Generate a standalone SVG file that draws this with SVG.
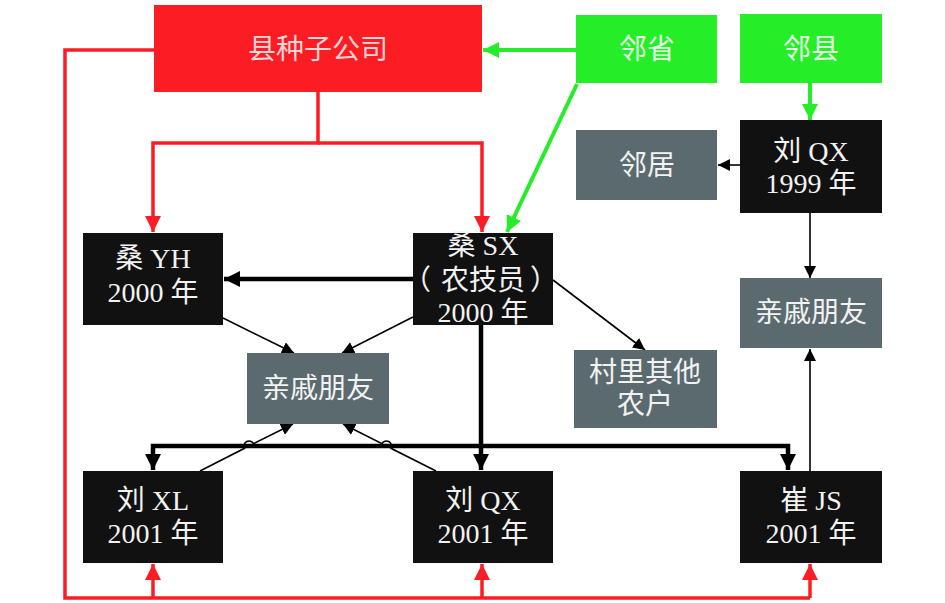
<svg xmlns="http://www.w3.org/2000/svg" width="945" height="603" viewBox="0 0 945 603">
<style>
.t{font-family:"Liberation Serif","Noto Sans CJK SC",serif;font-size:28px;text-anchor:middle;fill:#f2f2f2}
.s{text-anchor:start}
.red{fill:#fc1c23}.grn{fill:#25ee28}.blk{fill:#111111}.gry{fill:#5b6a6f}
.lr{fill:none;stroke:#fc1c23;stroke-width:3.5}
.lg{fill:none;stroke:#25ee28;stroke-width:4}
.lk{fill:none;stroke:#000;stroke-width:4.5}
.ln{fill:none;stroke:#000;stroke-width:1.6}
</style>
<defs>
<marker id="mr" markerUnits="userSpaceOnUse" markerWidth="18" markerHeight="18" refX="16" refY="8" orient="auto"><path d="M0,0 L16,8 L0,16 Z" fill="#fc1c23"/></marker>
<marker id="mg" markerUnits="userSpaceOnUse" markerWidth="18" markerHeight="18" refX="16" refY="8" orient="auto"><path d="M0,0 L16,8 L0,16 Z" fill="#25ee28"/></marker>
<marker id="mk" markerUnits="userSpaceOnUse" markerWidth="18" markerHeight="18" refX="16" refY="8" orient="auto"><path d="M0,0 L16,8 L0,16 Z" fill="#000"/></marker>
<marker id="mn" markerUnits="userSpaceOnUse" markerWidth="14" markerHeight="12" refX="12" refY="6" orient="auto"><path d="M0,0 L12,6 L0,12 Z" fill="#000"/></marker>
</defs>
<rect width="945" height="603" fill="#ffffff"/>
<g id="connectors">
<path class="lr" d="M154,50 H65 V598 H810"/>
<path class="lr" d="M153,598 V564" marker-end="url(#mr)"/>
<path class="lr" d="M482,598 V564" marker-end="url(#mr)"/>
<path class="lr" d="M810,598 V564" marker-end="url(#mr)"/>
<path class="lr" d="M318,92 V143 H153 V232" marker-end="url(#mr)"/>
<path class="lr" d="M318,143 H482 V232" marker-end="url(#mr)"/>
<path class="lg" d="M576,50 H483" marker-end="url(#mg)"/>
<path class="lg" d="M577,84 L507,232" marker-end="url(#mg)"/>
<path class="lg" d="M810,83 V120" marker-end="url(#mg)"/>
<path class="ln" d="M740,165 H718" marker-end="url(#mn)"/>
<path class="ln" d="M810,213 V278" marker-end="url(#mn)"/>
<path class="ln" d="M810,471 V349" marker-end="url(#mn)"/>
<path class="lk" d="M413,279 H224" marker-end="url(#mk)"/>
<path class="ln" d="M223,318 L294,353" marker-end="url(#mn)"/>
<path class="ln" d="M413,317 L342,353" marker-end="url(#mn)"/>
<path class="ln" d="M553,280 L645,350" marker-end="url(#mn)"/>
<path class="lk" d="M481,325 V470" marker-end="url(#mk)"/>
<path class="lk" d="M481,446 H153 V470" marker-end="url(#mk)"/>
<path class="lk" d="M481,446 H788 V470" marker-end="url(#mk)"/>
<path class="ln" d="M200,471 L244.5,448.3 A5,5 0 0,1 253.5,443.7 L293,424" marker-end="url(#mn)"/>
<path class="ln" d="M436,471 L391,448.3 A5,5 0 0,0 382,443.7 L343,424" marker-end="url(#mn)"/>
</g>
<g id="seed-company"><rect class="red" x="154" y="5" width="328" height="87"/><text class="t" x="318" y="59" style="fill:#ffd6d6">县种子公司</text></g>
<g id="neighbor-province"><rect class="grn" x="576" y="15" width="141" height="68"/><text class="t" x="647" y="59" style="fill:#e6ffe6">邻省</text></g>
<g id="neighbor-county"><rect class="grn" x="740" y="14" width="142" height="69"/><text class="t" x="811" y="59" style="fill:#e6ffe6">邻县</text></g>
<g id="liu-qx-1999"><rect class="blk" x="740" y="120" width="142" height="93"/><text class="t" x="811" y="161">刘 QX</text><text class="t" x="811" y="193">1999 年</text></g>
<g id="neighbors"><rect class="gry" x="576" y="130" width="141" height="70"/><text class="t" x="647" y="175">邻居</text></g>
<g id="relatives-right"><rect class="gry" x="740" y="278" width="142" height="70"/><text class="t" x="811" y="322">亲戚朋友</text></g>
<g id="sang-yh"><rect class="blk" x="83" y="233" width="140" height="92"/><text class="t" x="153" y="268">桑 YH</text><text class="t" x="153" y="302">2000 年</text></g>
<g id="sang-sx"><rect class="blk" x="413" y="233" width="140" height="92"/><text class="t" x="483" y="255">桑 SX</text><text class="t s" y="290"><tspan x="403">（</tspan><tspan x="441">农技员</tspan><tspan x="530">）</tspan></text><text class="t" x="483" y="322">2000 年</text></g>
<g id="relatives-mid"><rect class="gry" x="247" y="353" width="142" height="71"/><text class="t" x="318" y="398">亲戚朋友</text></g>
<g id="other-farmers"><rect class="gry" x="574" y="350" width="143" height="78"/><text class="t" x="645" y="382">村里其他</text><text class="t" x="645" y="414">农户</text></g>
<g id="liu-xl"><rect class="blk" x="83" y="471" width="140" height="92"/><text class="t" x="153" y="510">刘 XL</text><text class="t" x="153" y="543">2001 年</text></g>
<g id="liu-qx-2001"><rect class="blk" x="413" y="471" width="140" height="92"/><text class="t" x="483" y="510">刘 QX</text><text class="t" x="483" y="543">2001 年</text></g>
<g id="cui-js"><rect class="blk" x="740" y="471" width="142" height="92"/><text class="t" x="811" y="510">崔 JS</text><text class="t" x="811" y="543">2001 年</text></g>
</svg>
